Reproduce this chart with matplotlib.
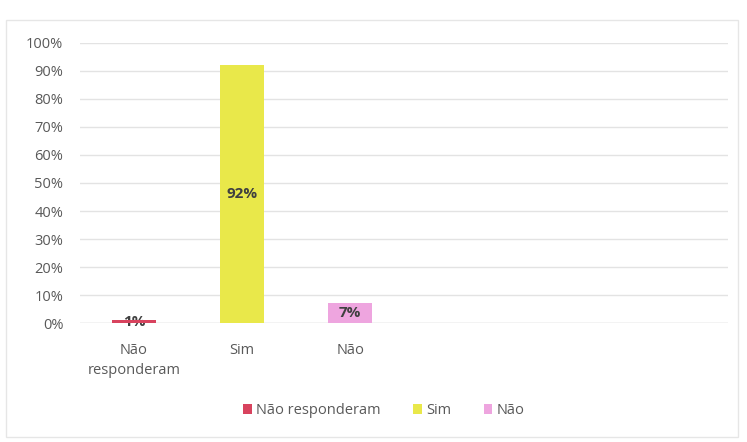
import matplotlib.pyplot as plt
from matplotlib.patches import Rectangle

plt.rcParams['font.family'] = ['Open Sans', 'DejaVu Sans']

categories = ["Não\nresponderam", "Sim", "Não"]
series_names = ["Não responderam", "Sim", "Não"]
values = [1, 92, 7]
labels = ["1%", "92%", "7%"]
colors = ["#D8435E", "#E9E84A", "#EEA5DF"]
n_slots = 6

fig = plt.figure(figsize=(7.47, 4.42), dpi=100)
fig.patches.append(Rectangle((0.008, 0.012), 0.98, 0.943, transform=fig.transFigure,
                             fill=False, edgecolor="#E6E6E6", linewidth=1))
ax = fig.add_axes([0.107, 0.269, 0.868, 0.634])

for i, (v, c, name) in enumerate(zip(values, colors, series_names)):
    ax.bar(i, v, width=0.4, color=c, label=name, zorder=3)

for i, (v, lab) in enumerate(zip(values, labels)):
    ax.text(i, v / 2, lab, ha="center", va="center", fontsize=11,
            fontweight="bold", color="#404040", zorder=2 if v < 2 else 4)

ax.set_xlim(-0.5, n_slots - 0.5)
ax.set_ylim(0, 100)
ax.set_yticks(range(0, 101, 10))
ax.set_yticklabels([f"{t}%" for t in range(0, 101, 10)])
ax.set_xticks(range(len(categories)))
ax.set_xticklabels(categories, linespacing=1.5)
ax.grid(axis="y", color="#E3E3E3", linewidth=1, zorder=0)
for s in ax.spines.values():
    s.set_visible(False)
ax.axhline(0, color="#D9D9D9", linewidth=1, zorder=1)
ax.tick_params(length=0, labelsize=10.5, labelcolor="#595959")
ax.tick_params(axis="y", pad=12)
ax.tick_params(axis="x", pad=14)

fig.legend(loc="center", bbox_to_anchor=(0.514, 0.071), ncol=3, frameon=False,
           fontsize=10.5, labelcolor="#595959", handlelength=0.6, handleheight=0.6,
           handletextpad=0.3, columnspacing=2.2)

fig.savefig("out.png", dpi=100)
